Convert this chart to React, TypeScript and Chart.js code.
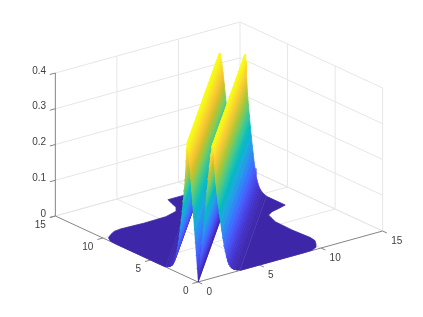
import React, { useEffect, useRef } from "react";
import { Chart, registerables } from "chart.js";

Chart.register(...registerables);

// tick labels
const xyTicks = [0, 5, 10, 15];
const zTicks = [0, 0.1, 0.2, 0.3, 0.4];
const zTickLabels = ["0", "0.1", "0.2", "0.3", "0.4"];

// surface height across the ridges, against the distance |x - y|
const across = [0, 0.1, 0.2, 0.3, 0.4, 0.5, 0.6, 0.7, 0.8, 0.9, 1.0, 1.1, 1.15, 1.2, 1.25, 1.3, 1.4, 1.5, 1.6, 1.7, 1.8, 1.9, 2.0, 2.1, 2.2, 2.3, 2.4, 2.5, 2.6, 2.7, 2.8, 2.9, 3.0, 3.2, 3.4];
const height = [0, 0.035, 0.07, 0.105, 0.14, 0.175, 0.21, 0.245, 0.28, 0.313, 0.342, 0.365, 0.37, 0.37, 0.35, 0.32, 0.265, 0.235, 0.205, 0.175, 0.15, 0.125, 0.103, 0.08, 0.063, 0.047, 0.034, 0.025, 0.018, 0.013, 0.01, 0.007, 0.005, 0.002, 0.001];
const ridgeEnd = 12.9;

// outline of the flat lobe (x > y); the other lobe mirrors it
const lobeX = [3.4, 8.6, 9.3, 9.8, 10.2, 10.5, 10.6, 10.55, 10.5, 10.56, 10.8, 10.95, 11.5, 12.2, 12.9, 12.9];
const lobeY = [0, 0, 0.05, 0.3, 0.8, 1.3, 1.9, 2.8, 3.7, 5.54, 6.3, 6.75, 7.1, 7.3, 7.53, 9.5];

// parula colormap
const parula = [
  [0.2422, 0.1504, 0.6603], [0.2647, 0.1978, 0.7952], [0.2783, 0.2559, 0.8991], [0.281, 0.3228, 0.9579],
  [0.2699, 0.3892, 0.9906], [0.2206, 0.4603, 0.9973], [0.1786, 0.5289, 0.9682], [0.154, 0.5902, 0.9218],
  [0.1248, 0.6459, 0.8883], [0.0689, 0.6948, 0.8394], [0.0067, 0.7312, 0.766], [0.1408, 0.7584, 0.6842],
  [0.2161, 0.7843, 0.5923], [0.3406, 0.8008, 0.4789], [0.5044, 0.7993, 0.348], [0.672, 0.7793, 0.2227],
  [0.8203, 0.7498, 0.1535], [0.9393, 0.7288, 0.21], [0.9952, 0.7893, 0.2028], [0.9676, 0.8639, 0.1643],
  [0.9628, 0.9373, 0.1265], [0.9769, 0.9839, 0.0805],
];

const GRID = "#e6e6e6";
const AXIS = "#858585";
const TEXT = "#404040";
const FONT = '10px "Liberation Sans"';

const project = (x: number, y: number, z: number) => ({
  x: 198 + 12.31 * x - 9.51 * y,
  y: 282 - 3.4 * x - 4.4 * y - 357.5 * z,
});

const colorOf = (t: number) => {
  const p = Math.max(0, Math.min(1, t)) * (parula.length - 1);
  const i = Math.min(parula.length - 2, Math.floor(p));
  const f = p - i;
  const c = parula[i].map((v, k) => Math.round(255 * (v + (parula[i + 1][k] - v) * f)));
  return `rgb(${c[0]},${c[1]},${c[2]})`;
};

const segment = (pts: { x: number; y: number }[], color: string, width = 1) => ({
  data: pts,
  showLine: true,
  fill: false,
  borderColor: color,
  borderWidth: width,
  pointRadius: 0,
  tension: 0,
});

const polygon = (pts: { x: number; y: number }[], color: any) => ({
  data: pts,
  showLine: true,
  fill: "shape",
  backgroundColor: color,
  borderColor: color,
  borderWidth: 0.8,
  pointRadius: 0,
  tension: 0,
});

function buildDatasets(ctx: CanvasRenderingContext2D) {
  const out: any[] = [];
  // grid: floor, back walls
  xyTicks.forEach((t) => {
    if (t > 0) out.push(segment([project(t, 0, 0), project(t, 15, 0)], GRID));
    if (t > 0) out.push(segment([project(0, t, 0), project(15, t, 0)], GRID));
    if (t > 0) out.push(segment([project(t, 15, 0), project(t, 15, 0.4)], GRID));
    if (t < 15) out.push(segment([project(15, t, 0), project(15, t, 0.4)], GRID));
  });
  zTicks.forEach((t) => {
    out.push(segment([project(0, 15, t), project(15, 15, t), project(15, 0, t)], GRID));
  });
  // axes
  out.push(segment([project(0, 15, 0), project(0, 0, 0), project(15, 0, 0)], AXIS));
  out.push(segment([project(0, 15, 0), project(0, 15, 0.4)], AXIS));
  xyTicks.forEach((t) => {
    out.push(segment([project(t, 0, 0), project(t, -0.45, 0)], AXIS));
    out.push(segment([project(0, t, 0), project(-0.45, t, 0)], AXIS));
  });
  zTicks.forEach((t) => {
    out.push(segment([project(0, 15, t), project(-0.45, 15, t)], AXIS));
  });

  const lobeFill = colorOf(0);
  // far lobe
  out.push(polygon(lobeX.map((x, i) => project(lobeY[i], x, 0)), lobeFill));
  // strips, far to near (v = x - y), each shaded across its width
  const vs = [...across.slice(1).reverse().map((v) => -v), ...across];
  const hs = [...height.slice(1).reverse(), ...height];
  const start = (v: number, z: number) => (v >= 0 ? project(v, 0, z) : project(0, -v, z));
  const end = (v: number, z: number) => (v >= 0 ? project(ridgeEnd, ridgeEnd - v, z) : project(ridgeEnd + v, ridgeEnd, z));
  const o = project(0, 0, 0);
  const far = project(1, 1, 0);
  const dx = far.x - o.x, dy = far.y - o.y, len = Math.hypot(dx, dy);
  const nx = -dy / len, ny = dx / len;
  for (let i = 0; i < vs.length - 1; i++) {
    const a = vs[i], b = vs[i + 1], za = hs[i], zb = hs[i + 1];
    const sa = start(a, za), sb = start(b, zb);
    const w = (sb.x - sa.x) * nx + (sb.y - sa.y) * ny;
    const g = ctx.createLinearGradient(sa.x, sa.y, sa.x + nx * w, sa.y + ny * w);
    g.addColorStop(0, colorOf(za / 0.37));
    g.addColorStop(1, colorOf(zb / 0.37));
    out.push(polygon([sa, end(a, za), end(b, zb), sb], g));
  }
  // near lobe
  out.push(polygon(lobeX.map((x, i) => project(x, lobeY[i], 0)), lobeFill));
  return out;
}

const labelPlugin = {
  id: "axisLabels",
  afterDraw(chart: any) {
    const ctx = chart.ctx;
    ctx.save();
    ctx.font = FONT;
    ctx.fillStyle = TEXT;
    ctx.textBaseline = "middle";
    ctx.textAlign = "right";
    zTicks.forEach((t, i) => {
      const p = project(0, 15, t);
      ctx.fillText(zTickLabels[i], p.x - 9.3, p.y - 2.2);
    });
    xyTicks.forEach((t) => {
      const p = project(0, t, 0);
      ctx.fillText(String(t), p.x - 9.5, p.y + 9.3);
    });
    ctx.textAlign = "left";
    xyTicks.forEach((t) => {
      const p = project(t, 0, 0);
      ctx.fillText(String(t), p.x + 8.5, p.y + 10.7);
    });
    ctx.restore();
  },
};

export default function App() {
  const ref = useRef<HTMLCanvasElement>(null);
  useEffect(() => {
    if (!ref.current) return;
    const ctx = ref.current.getContext("2d") as CanvasRenderingContext2D;
    const chart = new Chart(ref.current, {
      type: "scatter",
      data: { datasets: buildDatasets(ctx).reverse() },
      options: {
        animation: false,
        responsive: false,
        layout: { padding: 0 },
        plugins: { legend: { display: false }, tooltip: { enabled: false }, title: { display: false } },
        scales: {
          x: { type: "linear", min: 0, max: 423, display: false },
          y: { type: "linear", min: 0, max: 317, reverse: true, display: false },
        },
      },
      plugins: [labelPlugin],
    } as any);
    return () => chart.destroy();
  }, []);
  return (
    <canvas
      ref={ref}
      width={423}
      height={317}
      style={{ position: "absolute", left: 0, top: 0, width: 423, height: 317, display: "block", filter: "blur(0.35px)" }}
    />
  );
}
